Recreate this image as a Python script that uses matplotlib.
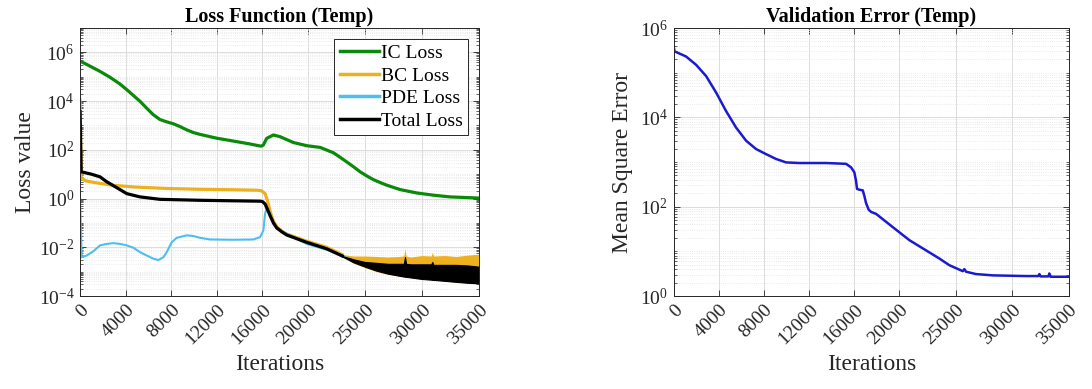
import numpy as np
import matplotlib
matplotlib.use("Agg")
import matplotlib.pyplot as plt
from matplotlib.ticker import LogLocator, FixedLocator, FuncFormatter, NullFormatter

plt.rcParams['font.family'] = ['Liberation Serif', 'DejaVu Serif']
plt.rcParams['mathtext.default'] = 'regular'

# 1. Data
xticks = [0, 4000, 8000, 12000, 16000, 20000, 25000, 30000, 35000]

ic_iter = [0, 585, 1170, 1750, 2630, 3510, 4100, 4680, 5260, 5850, 6430, 7020, 7600,
           8190, 8770, 9360, 9950, 10530, 11990, 13450, 14910, 15640, 15900, 16080,
           16370, 16960, 17540, 18710, 19880, 21050, 22220, 22800, 23390, 24000,
           24560, 25150, 25730, 26300, 26900, 28070, 29530, 30990, 32460, 35000]
ic_loss = [4.4e5, 3.2e5, 2.3e5, 1.66e5, 9.5e4, 5.0e4, 2.95e4, 1.7e4, 9.8e3, 5.1e3,
           2.75e3, 1.74e3, 1.41e3, 1.17e3, 900, 660, 510, 430, 300, 229, 174, 148,
           142, 158, 295, 407, 347, 200, 148, 126, 76, 50, 32, 20,
           12.6, 8.5, 6.0, 4.6, 3.55, 2.34, 1.70, 1.38, 1.17, 1.05]

bc_iter = [0, 100, 600, 1200, 1750, 2900, 4690, 7600, 10530, 13450, 15500, 15900,
           16230, 16450, 16670, 16960, 17250, 17700, 18130, 19880, 21640, 23000]
bc_loss = [1.1e4, 6.5, 5.2, 4.6, 4.2, 3.5, 3.0, 2.6, 2.4, 2.3, 2.2, 2.1,
           1.6, 0.8, 0.3, 0.12, 0.07, 0.046, 0.035, 0.0178, 0.010, 0.005]

pde_iter = [0, 146, 585, 1170, 1754, 2339, 2924, 3509, 4094, 4678, 5263, 5848, 6433,
            6871, 7310, 7602, 8041, 8480, 9357, 9942, 10526, 11404, 13450, 15205,
            15789, 16082, 16228, 16374, 16520, 16813, 17251, 18129, 19883, 21637,
            23000, 25000, 28000, 35000]
pde_loss = [1.0, 3.9e-3, 4.6e-3, 6.9e-3, 0.012, 0.0138, 0.0148, 0.0138, 0.012, 0.0096,
            0.0063, 0.0046, 0.0034, 0.0030, 0.0039, 0.0063, 0.0162, 0.0245, 0.031,
            0.029, 0.0245, 0.021, 0.0204, 0.021, 0.026, 0.049, 0.24, 0.39, 0.39,
            0.15, 0.057, 0.036, 0.0138, 0.0079, 0.0045, 1.8e-3, 8e-4, 4e-4]

total_iter = [0, 100, 1000, 1750, 2340, 3220, 4090, 5260, 7020, 10530, 15790, 16000,
              16230, 16450, 16670, 16960, 17250, 17700, 18130, 19880, 21640, 23000]
total_loss = [3.7e3, 12.6, 10.0, 7.8, 4.9, 2.8, 1.6, 1.17, 0.93, 0.85, 0.78, 0.75,
              0.6, 0.35, 0.2, 0.1, 0.063, 0.043, 0.032, 0.016, 0.0087, 0.0044]

# noisy tail: upper / lower envelopes
band_iter = [23000, 24000, 25000, 26000, 27000, 28000, 28400, 28500, 28600, 29000,
             30000, 30800, 30900, 31000, 32000, 33000, 34000, 35000]
bc_hi = [5.0e-3, 4.4e-3, 4.4e-3, 4.2e-3, 4.0e-3, 4.2e-3, 4.5e-3, 8.7e-3, 4.4e-3, 4.0e-3,
         4.6e-3, 4.4e-3, 6.3e-3, 4.4e-3, 4.6e-3, 4.2e-3, 4.8e-3, 5.2e-3]
bc_lo = [4.0e-3, 2.2e-3, 1.45e-3, 1.0e-3, 7.8e-4, 6.6e-4, 6.2e-4, 6.1e-4, 6.0e-4, 5.7e-4,
         4.9e-4, 4.6e-4, 4.5e-4, 4.5e-4, 4.1e-4, 3.7e-4, 3.4e-4, 3.2e-4]
total_hi = [4.4e-3, 3.2e-3, 2.5e-3, 2.3e-3, 2.1e-3, 2.1e-3, 2.1e-3, 4.0e-3, 2.1e-3, 2.0e-3,
            2.0e-3, 2.0e-3, 2.5e-3, 1.9e-3, 1.9e-3, 1.9e-3, 1.8e-3, 1.6e-3]
total_lo = [4.2e-3, 2.4e-3, 1.6e-3, 1.1e-3, 8.3e-4, 6.8e-4, 6.3e-4, 6.2e-4, 6.1e-4, 5.8e-4,
            5.0e-4, 4.7e-4, 4.6e-4, 4.6e-4, 4.2e-4, 3.8e-4, 3.5e-4, 3.3e-4]

mse_iter = [0, 60, 207, 1093, 1979, 2865, 3751, 4637, 5523, 6409, 7295, 8181, 9067,
            9953, 11130, 13500, 15270, 15710, 16000, 16150, 16240, 16450, 16750,
            16900, 17040, 17280, 17500, 17930, 19400, 20880, 22360, 23540, 24420,
            25610, 25750, 25900, 26790, 28260, 31220, 32300, 32400, 32500, 33200,
            33280, 33400, 35000]
mse_val = [3.9e5, 3.0e5, 2.9e5, 2.3e5, 1.5e5, 8.4e4, 3.6e4, 1.38e4, 5.9e3, 3.0e3,
           1.95e3, 1.5e3, 1.17e3, 980, 950, 950, 910, 760, 590, 380, 250, 240, 232,
           170, 120, 85, 76, 69, 35, 17.8, 10.5, 6.9, 4.9,
           3.6, 4.0, 3.5, 3.1, 2.9, 2.8, 2.8, 3.1, 2.75, 2.75,
           3.2, 2.7, 2.7]

# colours (MATLAB default-ish)
c_ic = '#0a8a0a'
c_bc = '#EDB120'
c_pde = '#4DBEEE'
c_tot = '#000000'
c_mse = '#1a1ad0'
txt_col = '#262626'


def log_label(v, pos):
    return r'$10^{%d}$' % int(round(np.log10(v)))


def style_axes(ax, ymin, ymax):
    ax.set_yscale('log')
    ax.set_xlim(0, 35000)
    ax.set_ylim(ymin, ymax)
    ax.xaxis.set_major_locator(FixedLocator(xticks))
    ax.set_xticklabels([str(t) for t in xticks], rotation=45, ha='right',
                       rotation_mode='anchor')
    lo, hi = int(np.log10(ymin)), int(np.log10(ymax))
    ax.yaxis.set_major_locator(FixedLocator([10.0 ** k for k in range(lo, hi + 1, 2)]))
    ax.yaxis.set_major_formatter(FuncFormatter(log_label))
    ax.yaxis.set_minor_locator(LogLocator(base=10, subs=np.arange(1, 10), numticks=100))
    ax.yaxis.set_minor_formatter(NullFormatter())
    ax.tick_params(which='both', direction='in', top=True, right=True,
                   colors=txt_col, labelsize=14)
    ax.tick_params(which='major', length=4, width=0.6, pad=4)
    ax.tick_params(which='minor', length=2, width=0.5)
    ax.grid(True, which='major', color='#dcdcdc', lw=0.7)
    ax.grid(True, which='minor', axis='y', color='#e4e4e4', lw=0.6, ls=':')
    ax.set_axisbelow(True)
    for s in ax.spines.values():
        s.set_color(txt_col)
        s.set_linewidth(0.7)
    ax.set_xlabel('Iterations', fontsize=17, color=txt_col, labelpad=4)


fig = plt.figure(figsize=(10.92, 3.89), dpi=100)

# 2. Loss function panel (drawing order: IC, BC, PDE, Total on top)
ax1 = fig.add_axes([0.0733, 0.239, 0.3654, 0.689])
style_axes(ax1, 1e-4, 1e7)
ax1.plot(ic_iter, ic_loss, color=c_ic, lw=2.3, label='IC Loss', zorder=2.0)
ax1.fill_between(band_iter, bc_lo, bc_hi, color=c_bc, lw=0, zorder=2.1)
ax1.plot(bc_iter, bc_loss, color=c_bc, lw=2.3, label='BC Loss', zorder=2.1)
ax1.plot(pde_iter, pde_loss, color=c_pde, lw=1.5, label='PDE Loss', zorder=2.2)
ax1.fill_between(band_iter, total_lo, total_hi, color=c_tot, lw=0.8,
                 edgecolor=c_tot, zorder=2.3)
ax1.plot(total_iter, total_loss, color=c_tot, lw=2.3, label='Total Loss', zorder=2.3)
ax1.set_title('Loss Function (Temp)', fontsize=14.5, fontweight='bold', pad=4)
ax1.set_ylabel('Loss value', fontsize=17, color=txt_col, labelpad=2)
leg = ax1.legend(loc='upper right', fontsize=14, fancybox=False, framealpha=1,
                 edgecolor='#262626', handlelength=2.0, handletextpad=0.1,
                 labelspacing=0.25, borderpad=0.3, borderaxespad=0.55)
leg.set_zorder(5)
leg.get_frame().set_linewidth(0.7)
for line in leg.get_lines():
    line.set_linewidth(2.5)

# 3. Validation panel
ax2 = fig.add_axes([0.617, 0.239, 0.3617, 0.689])
style_axes(ax2, 1e0, 1e6)
ax2.plot(mse_iter, mse_val, color=c_mse, lw=1.8)
ax2.set_title('Validation Error (Temp)', fontsize=14.5, fontweight='bold', pad=4)
ax2.set_ylabel('Mean Square Error', fontsize=17, color=txt_col, labelpad=5)

fig.savefig('out.png', dpi=100)
